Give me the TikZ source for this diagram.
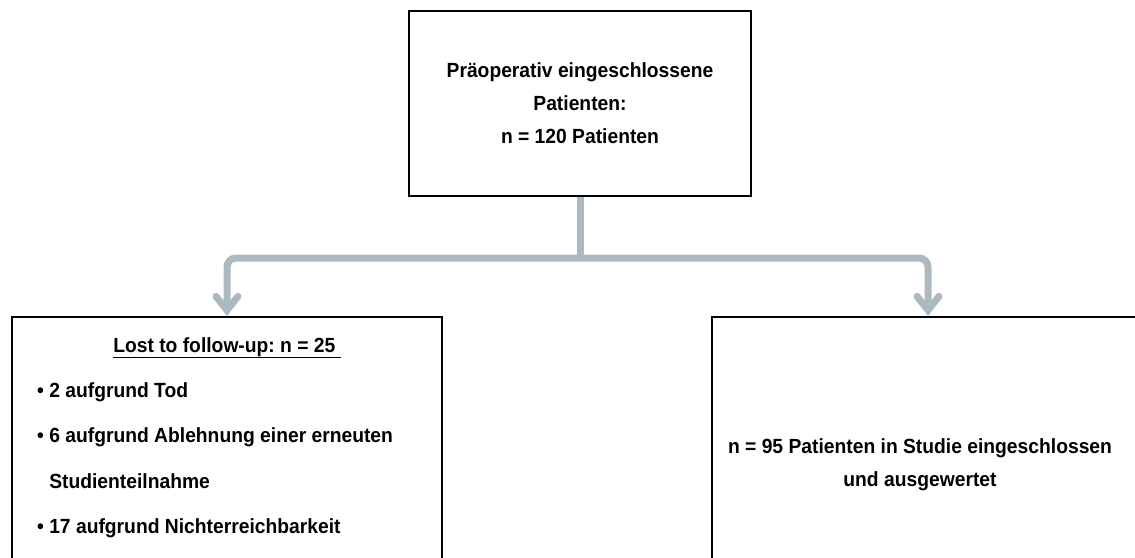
\documentclass[tikz,border=0pt]{standalone}
\usepackage{fontspec}
\setmainfont{Liberation Sans}[FakeStretch=0.94]
\usepackage{xcolor}
\usepackage{tikz}
\usetikzlibrary{arrows.meta}
\frenchspacing
\definecolor{flowgray}{HTML}{ADB9C1}
\tikzset{
box/.style={
  rectangle,
  draw=black,
  line width=2pt,
  inner sep=0pt,
  align=center
},
txt/.style={
  font=\bfseries\fontsize{20.5}{33}\selectfont,
  inner sep=0pt
},
flowline/.style={
  draw=flowgray,
  line width=7pt
},
flow/.style={
  flowline,
  rounded corners=9pt,
  -{Straight Barb[length=14pt,width=22pt,line cap=round]}
},
}

\begin{document}
\begin{tikzpicture}[x=1pt,y=-1pt]
\useasboundingbox (0,0) rectangle (1135,557);
\clip (0,0) rectangle (1135,557);
% the boxes
\node[box, txt, minimum width=342pt, minimum height=185pt] (top) at (580,103.5)
  {Präoperativ eingeschlossene\\Patienten:\\n = 120 Patienten};
\node[box, minimum width=430pt, minimum height=250pt] (lost) at (227,442) {};
\node[box, minimum width=432pt, minimum height=250pt] (incl) at (928,442) {};
% the texts
\node[txt, anchor=base] (losttitle) at (227,352) {\underline{Lost to follow-up: n = 25~}};
\foreach \y/\t [count=\i] in {397/• 2 aufgrund Tod,
                               442/• 6 aufgrund Ablehnung einer erneuten,
                               488/\phantom{•} Studienteilnahme,
                               533/• 17 aufgrund Nichterreichbarkeit}
{
  \node[txt, anchor=base west] (item\i) at (37,\y) {\t};
}
\node[txt, align=center] (incltext) at (920,465)
  {n = 95 Patienten in Studie eingeschlossen\\und ausgewertet};
% the arrows
\coordinate (fork) at (580,258);
\draw[flowline] (top.south) -- (fork);
\draw[flow] (fork) -| (lost.north);
\draw[flow] (fork) -| (incl.north);
\end{tikzpicture}
\end{document}
